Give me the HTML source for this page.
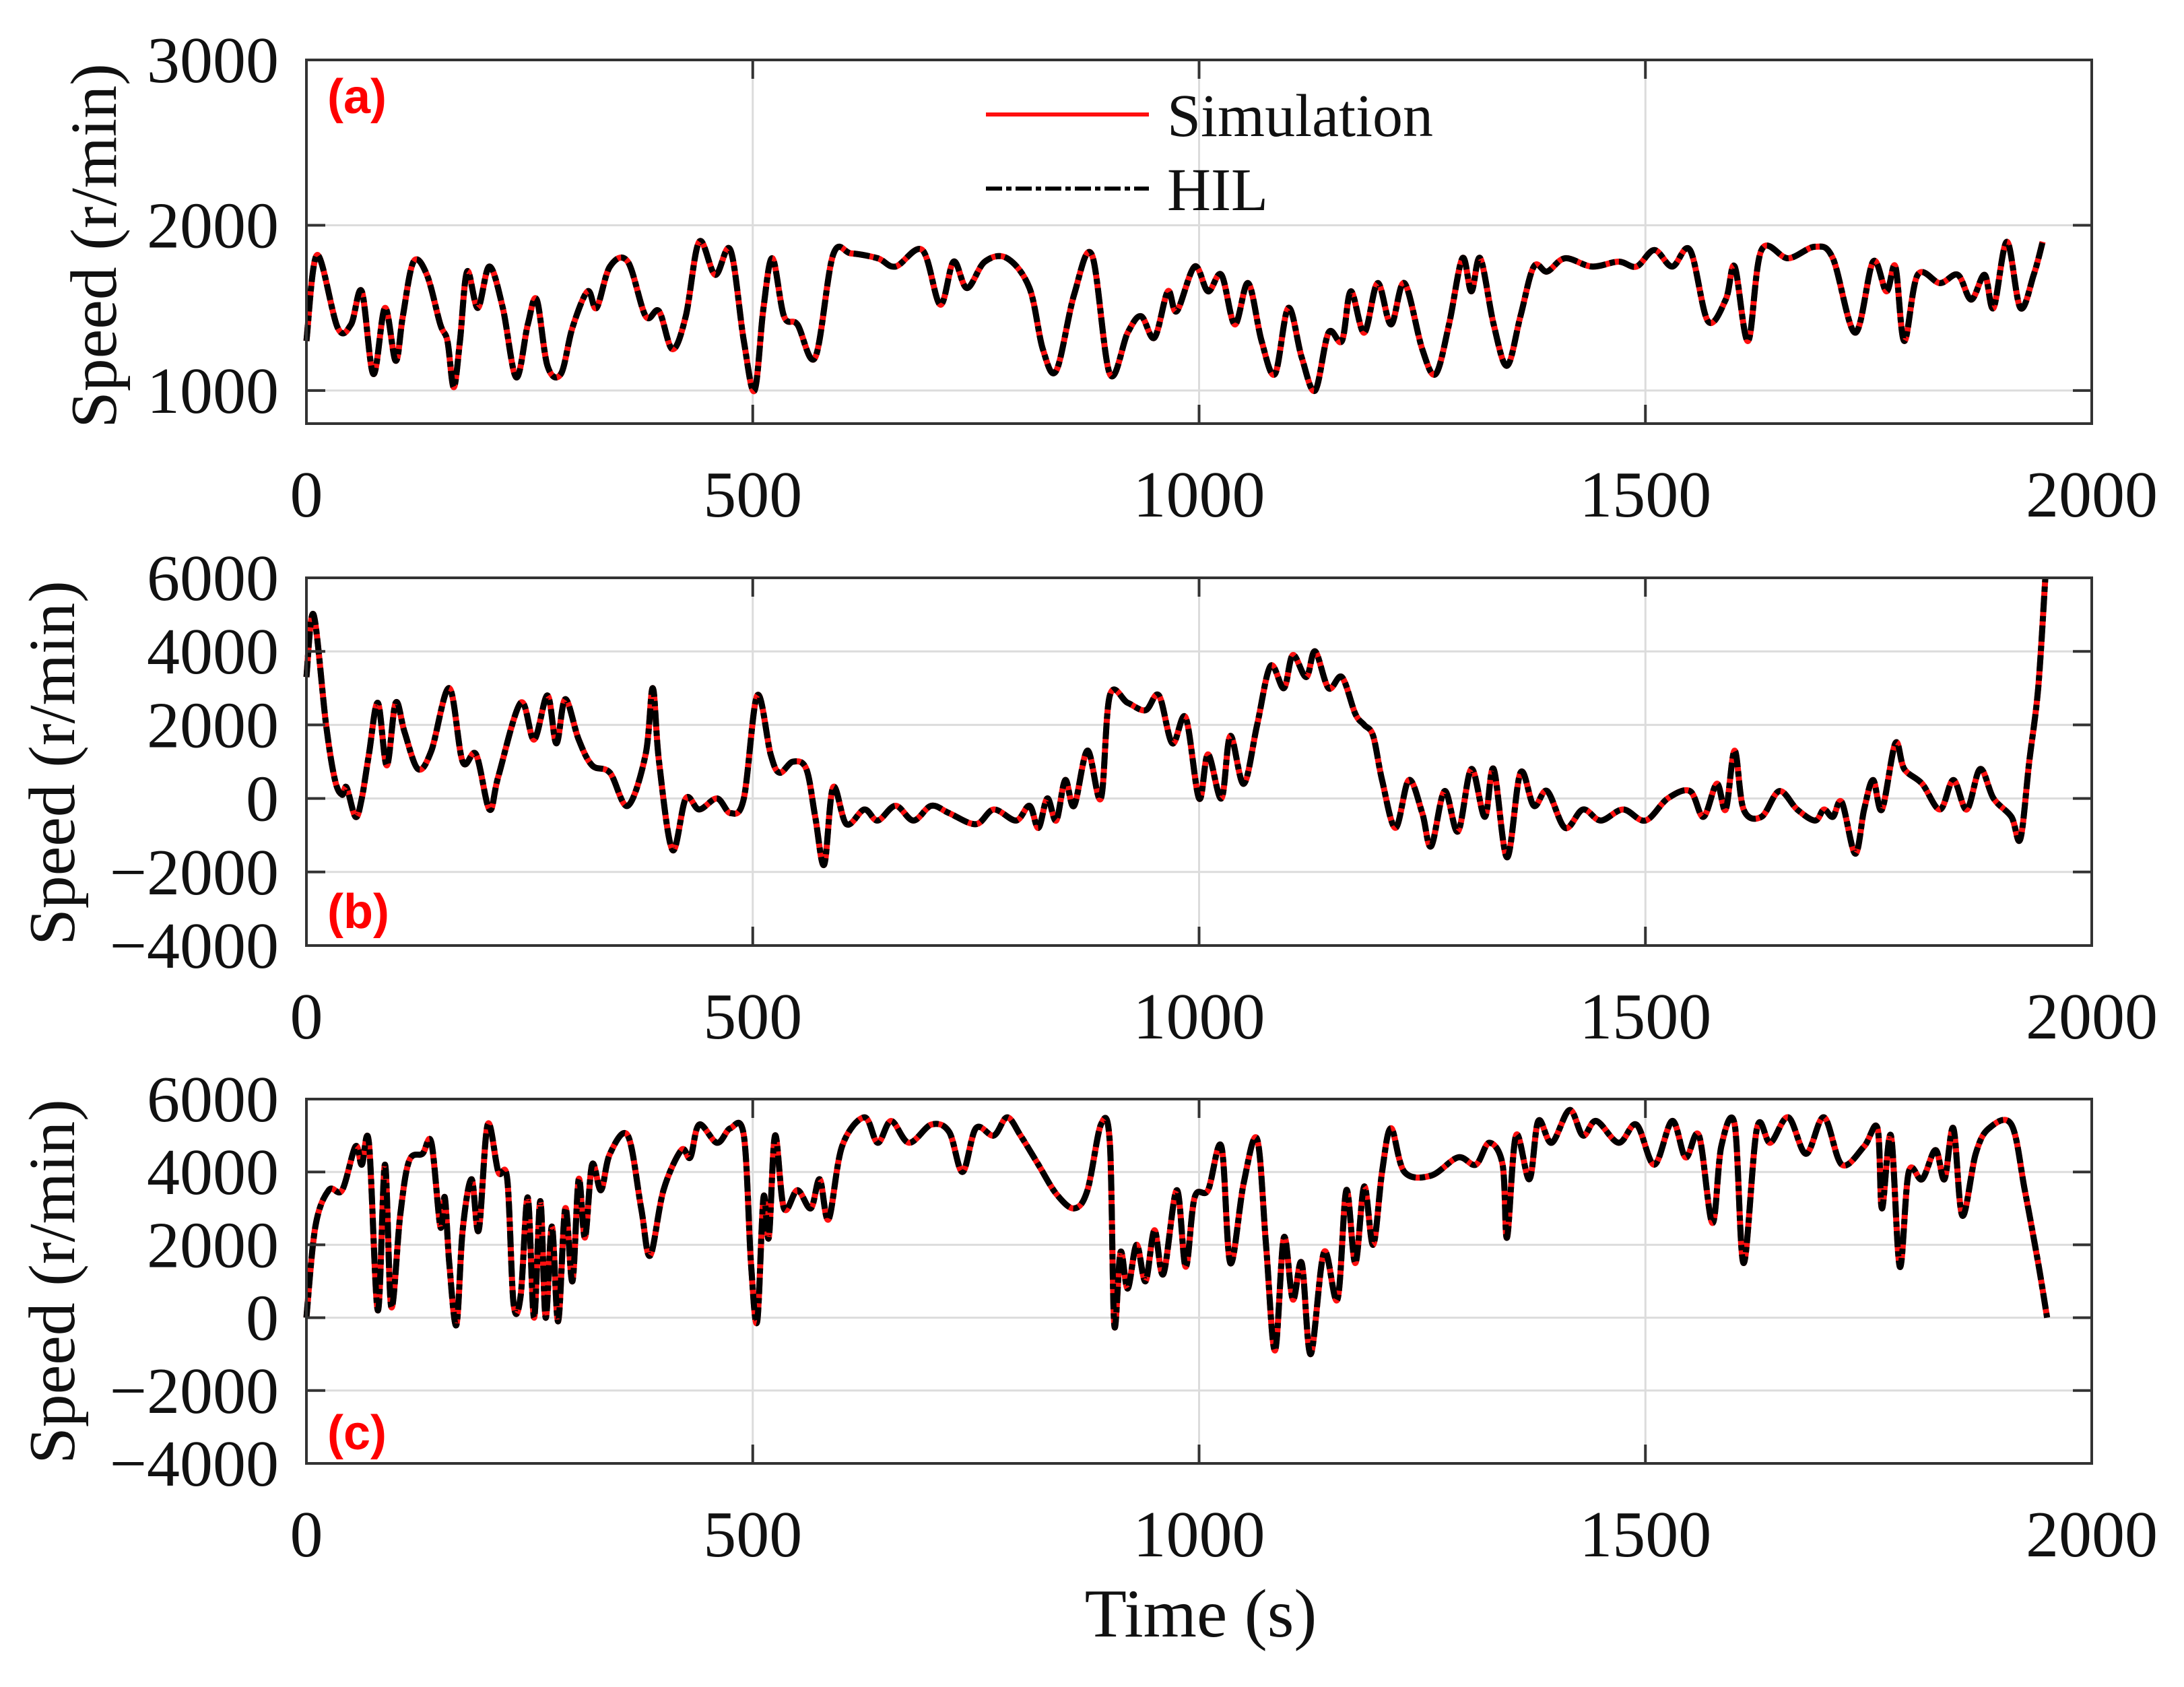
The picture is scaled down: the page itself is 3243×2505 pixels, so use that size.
<!DOCTYPE html>
<html><head><meta charset="utf-8"><style>
html,body{margin:0;padding:0;background:#fff}
svg{display:block}
text{font-family:"Liberation Serif",serif;fill:#111}
</style></head><body>
<svg id="chart" width="3243" height="2505" viewBox="0 0 3243 2505" xmlns="http://www.w3.org/2000/svg"></svg>
<script>
const timeA=[0,12,35,50,62,75,88,100,108,120,135,150,158,165,172,180,192,205,220,235,248,258,270,285,298,315,325,340,360,380,395,410,425,440,458,475,490,502,512,522,535,550,570,590,610,640,660,690,710,725,740,760,785,810,825,840,860,880,900,920,935,950,965,975,995,1010,1025,1040,1055,1070,1085,1100,1115,1130,1145,1160,1170,1185,1200,1215,1230,1250,1265,1280,1295,1305,1315,1330,1345,1360,1375,1390,1410,1440,1470,1490,1510,1530,1550,1570,1590,1600,1615,1630,1660,1690,1710,1735,1755,1770,1780,1790,1805,1830,1850,1865,1880,1890,1905,1920,1935,1945];
const speedA=[1300,1820,1380,1400,1600,1100,1500,1180,1450,1780,1700,1400,1300,1020,1300,1720,1500,1750,1500,1080,1400,1550,1150,1100,1380,1600,1500,1750,1780,1450,1480,1250,1450,1900,1700,1850,1300,1000,1500,1800,1450,1400,1200,1820,1830,1800,1750,1850,1520,1780,1620,1780,1800,1620,1250,1120,1580,1820,1100,1350,1450,1320,1600,1480,1750,1600,1700,1400,1650,1300,1100,1500,1200,1000,1350,1300,1600,1350,1650,1400,1650,1250,1100,1400,1800,1600,1800,1400,1150,1450,1750,1720,1800,1750,1780,1750,1850,1750,1850,1420,1550,1750,1300,1850,1800,1870,1800,1350,1780,1600,1750,1300,1700,1650,1700,1550,1700,1500,1900,1500,1700,1900];
const timeB=[0,8,22,32,40,45,55,62,70,80,90,100,110,125,140,160,175,190,205,215,240,255,270,280,290,305,320,340,360,380,388,395,410,425,440,460,475,490,505,520,530,545,560,570,580,590,605,625,640,660,680,700,720,750,770,795,810,820,830,840,850,860,875,890,900,920,940,955,970,985,1000,1010,1025,1035,1050,1065,1080,1095,1105,1120,1130,1145,1160,1175,1185,1195,1205,1220,1235,1250,1260,1275,1290,1305,1320,1330,1345,1360,1375,1390,1410,1430,1450,1475,1500,1525,1550,1565,1580,1590,1600,1610,1630,1650,1670,1690,1700,1710,1720,1735,1745,1755,1765,1780,1790,1810,1830,1845,1860,1875,1890,1910,1920,1930,1940,1948];
const speedB=[3300,5000,2000,500,100,300,-500,0,1200,2600,900,2600,1800,800,1300,3000,1000,1200,-300,600,2600,1600,2800,1500,2700,1600,900,700,-200,1200,3000,1000,-1400,0,-300,0,-400,0,2800,1200,700,1000,800,-500,-1800,300,-700,-300,-600,-200,-600,-200,-400,-700,-300,-600,-200,-800,0,-600,500,-200,1300,0,2800,2600,2400,2800,1500,2200,0,1200,0,1700,400,2000,3600,3000,3900,3300,4000,3000,3300,2300,2000,1700,500,-800,500,-400,-1300,200,-900,800,-500,800,-1600,700,-200,200,-800,-300,-600,-300,-600,0,200,-500,400,-300,1300,-300,-500,200,-300,-600,-300,-500,-100,-1500,-300,500,-300,1500,800,400,-300,500,-300,800,0,-500,-1100,1000,3000,6000];
const timeC=[0,10,25,40,55,62,70,80,88,95,105,115,130,140,150,155,160,168,175,185,193,203,215,225,232,240,248,255,262,268,275,282,290,298,305,312,320,330,340,360,375,385,400,420,430,440,460,475,490,498,505,512,518,525,535,550,565,575,585,600,625,640,655,675,700,720,735,750,770,785,800,820,840,860,875,890,900,905,912,920,930,940,950,960,975,985,995,1010,1025,1035,1050,1065,1075,1085,1095,1105,1115,1125,1140,1155,1165,1175,1185,1195,1205,1215,1230,1260,1290,1310,1325,1340,1345,1355,1370,1380,1395,1415,1430,1445,1470,1490,1510,1530,1545,1560,1575,1585,1600,1610,1625,1640,1660,1680,1700,1720,1745,1760,1765,1775,1785,1795,1810,1825,1835,1845,1855,1870,1885,1910,1925,1940,1950];
const speedC=[0,2500,3500,3500,4700,4200,4800,200,4200,300,2800,4300,4500,4800,2500,3300,1500,-200,2400,3800,2400,5300,4000,3800,400,600,3300,0,3200,0,2500,-100,3000,1000,3800,2200,4200,3500,4500,5000,3000,1700,3500,4600,4400,5300,4800,5200,5000,1500,-100,3300,2200,5000,3000,3500,3000,3800,2700,4700,5500,4800,5400,4800,5300,5100,4000,5200,5000,5500,5000,4200,3400,3000,3500,5300,4800,-200,1800,800,2000,1000,2400,1200,3500,1400,3300,3500,4700,1500,3700,4900,2000,-900,2200,500,1500,-1000,1800,500,3500,1500,3600,2000,4000,5200,4000,3900,4400,4200,4800,4200,2200,5000,3800,5400,4800,5700,5000,5400,4800,5300,4200,5400,4400,5000,2600,4700,5300,1500,5200,4800,5500,4500,5500,4200,4700,5200,3000,5000,1400,4000,3800,4600,3800,5200,2800,4500,5200,5300,3500,1500,0];
const xTicks=[0,500,1000,1500,2000];
const yTicksA=[1000,2000,3000];
const yTicksBC=[-4000,-2000,0,2000,4000,6000];

const NS='http://www.w3.org/2000/svg';
const svg=document.getElementById('chart');
function el(tag,attrs,parent){const e=document.createElementNS(NS,tag);for(const k in attrs)e.setAttribute(k,attrs[k]);(parent||svg).appendChild(e);return e;}
const X0=455,X1=3106;
function xs(t){return X0+(t-0)/(2000-0)*(X1-X0);}
function smoothPath(pts){
  let d='M'+pts[0][0].toFixed(1)+','+pts[0][1].toFixed(1);
  for(let i=0;i<pts.length-1;i++){
    const p0=pts[Math.max(0,i-1)],p1=pts[i],p2=pts[i+1],p3=pts[Math.min(pts.length-1,i+2)];
    const c1x=p1[0]+(p2[0]-p0[0])/6,c1y=p1[1]+(p2[1]-p0[1])/6;
    const c2x=p2[0]-(p3[0]-p1[0])/6,c2y=p2[1]-(p3[1]-p1[1])/6;
    d+=' C'+c1x.toFixed(1)+','+c1y.toFixed(1)+' '+c2x.toFixed(1)+','+c2y.toFixed(1)+' '+p2[0].toFixed(1)+','+p2[1].toFixed(1);
  }
  return d;
}
function panel(id,top,bottom,ymin,ymax,yTicks,times,vals,ylabX,ylabY,tag,tagY){
  const g=el('g',{});
  
  
  const ys=v=>bottom-(v-ymin)/(ymax-ymin)*(bottom-top);
  yTicks.forEach(v=>{
    const l=el('line',{x1:X0,x2:X1,y1:ys(v),y2:ys(v),stroke:'#dcdcdc','stroke-width':3},g);
    
    
  });
  xTicks.forEach(v=>{
    const l=el('line',{x1:xs(v),x2:xs(v),y1:top,y2:bottom,stroke:'#dcdcdc','stroke-width':3},g);
    
    
  });
  const pts=times.map((t,i)=>[xs(t),ys(vals[i])]);
  const d=smoothPath(pts);
  const r=el('path',{d:d,fill:'none',stroke:'#ff1010','stroke-width':9,'stroke-linejoin':'round'},g);
  
  
  const b=el('path',{d:d,fill:'none',stroke:'#000','stroke-width':9,'stroke-dasharray':'24 6 8 6','stroke-linejoin':'round'},g);
  
  
  yTicks.forEach(v=>{
    el('line',{x1:X0,x2:X0+28,y1:ys(v),y2:ys(v),stroke:'#333','stroke-width':4},g);
    el('line',{x1:X1-28,x2:X1,y1:ys(v),y2:ys(v),stroke:'#333','stroke-width':4},g);
    const t=el('text',{x:414,y:ys(v)+33,'text-anchor':'end','font-size':98},g);
    t.textContent=v<0?'\u2212'+Math.abs(v):String(v);
    
    
  });
  xTicks.forEach(v=>{
    el('line',{x1:xs(v),x2:xs(v),y1:bottom,y2:bottom-28,stroke:'#333','stroke-width':4},g);
    el('line',{x1:xs(v),x2:xs(v),y1:top,y2:top+28,stroke:'#333','stroke-width':4},g);
    const t=el('text',{x:xs(v),y:bottom+138,'text-anchor':'middle','font-size':98},g);
    t.textContent=String(v);
    
    
  });
  const box=el('rect',{x:X0,y:top,width:X1-X0,height:bottom-top,fill:'none',stroke:'#333','stroke-width':4},g);
  
  
  const yl=el('text',{x:0,y:0,'text-anchor':'middle','font-size':98,transform:'translate('+ylabX+','+ylabY+') rotate(-90)'},g);
  yl.textContent='Speed (r/min)';
  
  
  const tg=el('text',{x:486,y:tagY,'font-size':72,'font-weight':'bold',style:'font-family:"Liberation Sans",sans-serif;fill:#ff0000'},g);
  tg.textContent=tag;
  
  
}
panel('a',89,629,800,3000,yTicksA,timeA,speedA,172,365,'(a)',168);
panel('b',858,1404,-4000,6000,yTicksBC,timeB,speedB,110,1133,'(b)',1378);
panel('c',1632,2173,-4000,6000,yTicksBC,timeC,speedC,110,1903,'(c)',2152);

const lg=el('g',{});


const l1=el('line',{x1:1464,x2:1706,y1:170,y2:170,stroke:'#ff1010','stroke-width':6},lg);


const t1=el('text',{x:1733,y:202,'font-size':90},lg);t1.textContent='Simulation';


const l2=el('line',{x1:1464,x2:1706,y1:280,y2:280,stroke:'#000','stroke-width':6,'stroke-dasharray':'24 6 8 6'},lg);


const t2=el('text',{x:1733,y:312,'font-size':90},lg);t2.textContent='HIL';



const xt=el('text',{x:1783,y:2430,'text-anchor':'middle','font-size':102});
xt.textContent='Time (s)';


</script>
</body></html>
